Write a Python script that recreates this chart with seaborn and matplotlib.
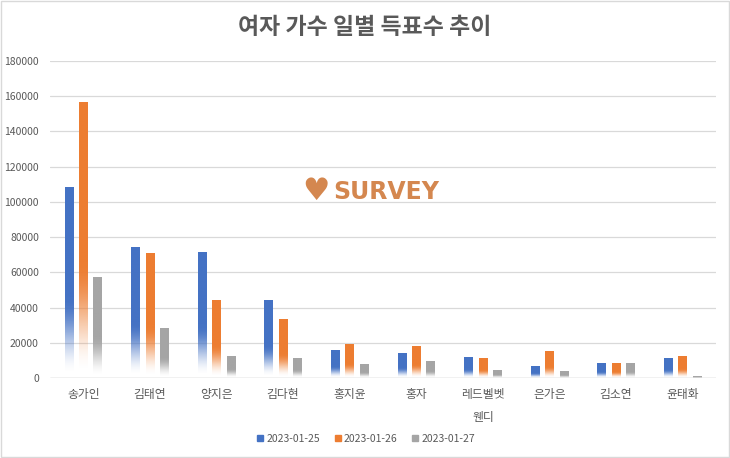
import numpy as np
import pandas as pd
import matplotlib.pyplot as plt
import seaborn as sns
from matplotlib.colors import to_rgb
from matplotlib.lines import Line2D

singers = ["송가인", "김태연", "양지은", "김다현", "홍지윤", "홍자", "레드벨벳\n웬디", "은가은", "김소연", "윤태화"]
dates = ["2023-01-25", "2023-01-26", "2023-01-27"]
votes_0125 = [108400, 73900, 71500, 43900, 15700, 13800, 11700, 6600, 8100, 11200]
votes_0126 = [156400, 70500, 43900, 33100, 18900, 18000, 11000, 14900, 8100, 12300]
votes_0127 = [57100, 28000, 12300, 11000, 7600, 9600, 4200, 3600, 8100, 600]
colors = ["#4472C4", "#ED7D31", "#A5A5A5"]

sns.set_style("white")
plt.rcParams["font.family"] = ["Noto Sans CJK KR", "DejaVu Sans"]

df = pd.DataFrame({"singer": singers, dates[0]: votes_0125, dates[1]: votes_0126, dates[2]: votes_0127})
long = df.melt(id_vars="singer", var_name="date", value_name="votes")

fig = plt.figure(figsize=(7.3, 4.58), dpi=100)
ax = fig.add_axes([50 / 730, 1 - 378 / 458, 666 / 730, 317 / 458])

sns.barplot(data=long, x="singer", y="votes", hue="date", palette=colors, saturation=1,
            width=0.65, gap=0.4, legend=False, ax=ax)

ax.set_yticks(np.arange(0, 180001, 20000))
ax.yaxis.grid(True, color="#d9d9d9", lw=0.9)
ax.set_axisbelow(True)
sns.despine(ax=ax, left=True, bottom=True)
ax.axhline(0, color="#d0d0d0", lw=1)
ax.set_xlabel("")
ax.set_ylabel("")
ax.tick_params(axis="y", labelsize=7.5, labelcolor="#595959", length=0, pad=8)
ax.tick_params(axis="x", labelsize=8.5, labelcolor="#595959", length=0, pad=7)
for lbl in ax.get_xticklabels():
    lbl.set_linespacing(2.0)

# gradient fill: solid at top, fading to white at the bottom
for patch in list(ax.patches):
    h = patch.get_height()
    if h <= 0:
        continue
    x0, w = patch.get_x(), patch.get_width()
    rgb = to_rgb(patch.get_facecolor())
    t = np.linspace(0, 1, 300)
    s = np.clip((t - 0.02) / 0.4, 0, 1)
    alpha = s * s * (3 - 2 * s)
    img = np.zeros((300, 1, 4))
    img[:, 0, :3] = rgb
    img[:, 0, 3] = alpha
    ax.imshow(img, extent=(x0, x0 + w, 0, h), origin="lower", aspect="auto",
              zorder=2, interpolation="bilinear")
    patch.set_visible(False)

ax.set_ylim(0, 180000)
ax.set_xlim(-0.5, len(singers) - 0.5)

fig.text(0.5, 1 - 27 / 458, "여자 가수 일별 득표수 추이", ha="center", va="center",
         fontsize=16.5, fontweight="bold", color="#595959")

handles = [Line2D([], [], marker="s", linestyle="", color=c, markersize=4.5) for c in colors]
fig.legend(handles, dates, loc="center", bbox_to_anchor=(0.5, 1 - 439 / 458), ncol=3,
           frameon=False, fontsize=7.5, labelcolor="#595959", handletextpad=0.1,
           columnspacing=1.2, handlelength=1)

# SURVEY watermark
fig.text(316 / 730, 1 - 192 / 458, "♥", ha="center", va="center", fontsize=22,
         color="#d4874f", family="DejaVu Sans")
fig.text(333 / 730, 1 - 192 / 458, "SURVEY", ha="left", va="center", fontsize=17,
         fontweight="bold", color="#d4874f", family="DejaVu Sans")

fig.patches.append(plt.Rectangle((0.002, 0.003), 0.996, 0.994, transform=fig.transFigure,
                                 fill=False, edgecolor="#d9d9d9", lw=1))

fig.savefig("out.png", dpi=100)
